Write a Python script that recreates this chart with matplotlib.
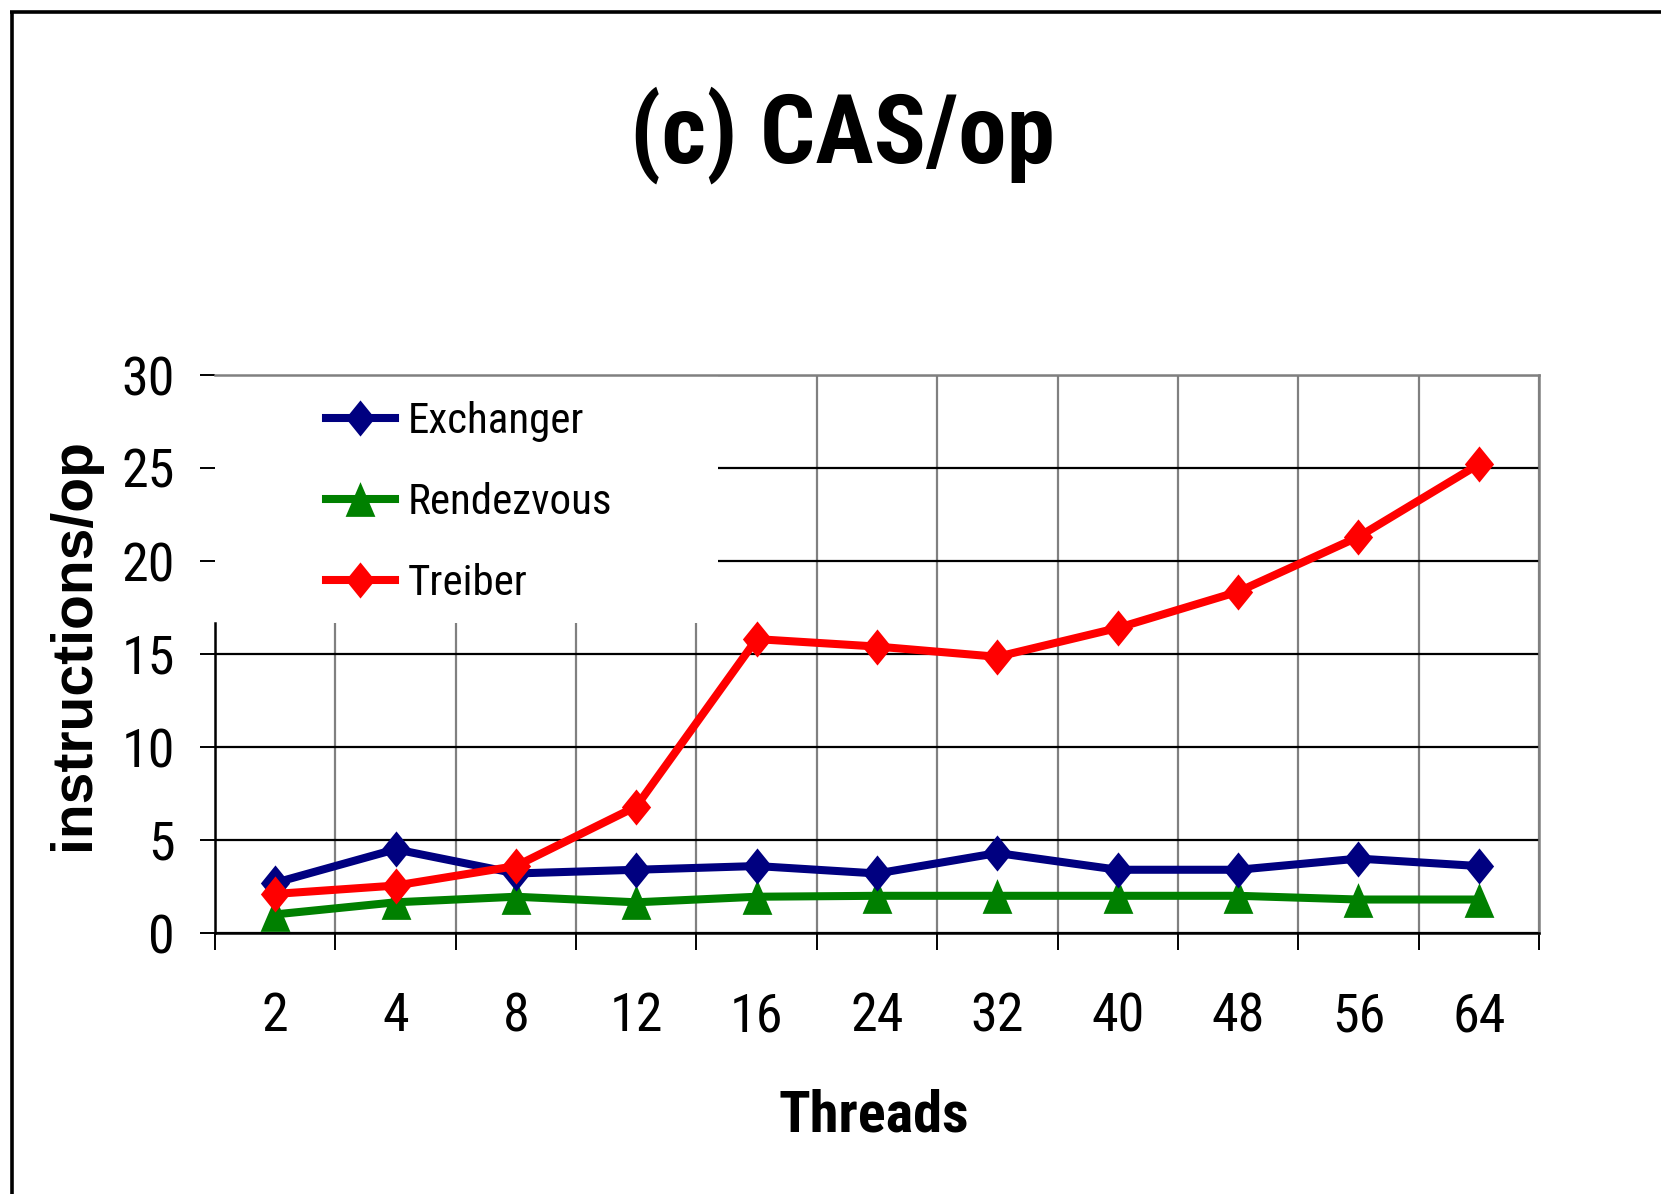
import matplotlib
matplotlib.use("Agg")
import matplotlib.pyplot as plt
from matplotlib import font_manager as fm
from matplotlib.lines import Line2D
from matplotlib.patches import Rectangle

# Data
threads = ["2", "4", "8", "12", "16", "24", "32", "40", "48", "56", "64"]
exchanger = [2.7, 4.5, 3.2, 3.4, 3.6, 3.2, 4.3, 3.4, 3.4, 4.0, 3.6]
rendezvous = [1.0, 1.65, 1.95, 1.65, 1.95, 2.0, 2.0, 2.0, 2.0, 1.8, 1.8]
treiber = [2.1, 2.55, 3.6, 6.8, 15.8, 15.4, 14.85, 16.4, 18.35, 21.3, 25.2]
yticks = [0, 5, 10, 15, 20, 25, 30]


def pick_narrow_family():
    """First narrow sans family with static regular and bold faces."""
    prefs = ['Liberation Sans Narrow', 'Arial Narrow', 'Roboto Condensed', 'Archivo Narrow',
             'IBM Plex Sans Condensed', 'Encode Sans Condensed', 'PT Sans Narrow',
             'Open Sans Condensed', 'Sofia Sans Semi Condensed']
    faces = {}
    for f in fm.fontManager.ttflist:
        if '[' in f.fname or f.style != 'normal':
            continue
        faces.setdefault(f.name, set()).add(int(f.weight))
    for name in prefs:
        w = faces.get(name, set())
        if any(x <= 500 for x in w) and any(x >= 700 for x in w):
            return name
    return 'Liberation Sans'


narrow = pick_narrow_family()
plt.rcParams['font.family'] = [narrow, 'Liberation Sans', 'DejaVu Sans']

W, H = 1661, 1194
fig = plt.figure(figsize=(W / 100, H / 100), dpi=100)

# outer frame (top and left edges)
fig.add_artist(Line2D([12 / W, 12 / W], [0, 1 - 12 / H], transform=fig.transFigure,
                      color='black', lw=2.6, solid_capstyle='butt'))
fig.add_artist(Line2D([12 / W - 0.001, 1], [1 - 12 / H, 1 - 12 / H], transform=fig.transFigure,
                      color='black', lw=2.6, solid_capstyle='butt'))

ax = fig.add_axes([215 / W, 1 - 933 / H, (1539 - 215) / W, (933 - 375) / H])

diamond = [(0, 1), (0.81, 0), (0, -1), (-0.81, 0), (0, 1)]
triangle = [(0, 1), (0.857, -1), (-0.857, -1), (0, 1)]

x = list(range(len(threads)))
ax.plot(x, exchanger, color='#000080', lw=5.8, marker=diamond, markersize=26,
        markeredgewidth=0, label='Exchanger', zorder=4, solid_joinstyle='miter')
ax.plot(x, rendezvous, color='#008000', lw=5.8, marker=triangle, markersize=25,
        markeredgewidth=0, label='Rendezvous', zorder=3, solid_joinstyle='miter')
ax.plot(x, treiber, color='#FF0000', lw=5.8, marker=diamond, markersize=26,
        markeredgewidth=0, label='Treiber', zorder=5, solid_joinstyle='miter')

ax.set_xlim(-0.5, len(threads) - 0.5)
ax.set_ylim(0, 30)
ax.set_yticks(yticks)
ax.set_yticklabels([str(v) for v in yticks], fontsize=39)
ax.set_xticks(x)
ax.set_xticklabels(threads, fontsize=39)
ax.set_xticks([i - 0.5 for i in range(len(threads) + 1)], minor=True)

ax.tick_params(axis='x', which='major', length=0, pad=42)
ax.tick_params(axis='x', which='minor', length=12, width=1.4, direction='out', color='black')
ax.tick_params(axis='y', which='major', length=11, width=1.4, direction='out', pad=18, color='black')

ax.set_axisbelow(True)
ax.grid(which='major', axis='y', color='black', lw=1.6)
ax.grid(which='minor', axis='x', color='#808080', lw=1.6)
ax.grid(which='major', axis='x', visible=False)

for side in ('top', 'right'):
    ax.spines[side].set_color('#808080')
    ax.spines[side].set_linewidth(1.8)
for side in ('bottom', 'left'):
    ax.spines[side].set_color('black')
    ax.spines[side].set_linewidth(1.8)
ax.spines['left'].set_bounds(0, 16.67)

# white area behind the legend
ax.add_patch(Rectangle((0, 16.67 / 30), 0.38, 1 - 16.67 / 30, transform=ax.transAxes,
                       facecolor='white', edgecolor='none', zorder=1))

ax.legend(loc='upper left', bbox_to_anchor=(326 / W, 1 - 401 / H), bbox_transform=fig.transFigure,
          frameon=False, fontsize=31, handlelength=1.6, handletextpad=0.29,
          labelspacing=0.93, borderpad=0, borderaxespad=0, numpoints=1)

fig.text(842 / W, 1 - 163 / H, '(c) CAS/op', ha='center', va='baseline',
         fontsize=70, fontweight='bold')
fig.text(874 / W, 1 - 1132 / H, 'Threads', ha='center', va='baseline',
         fontsize=42, fontweight='bold')
fig.text(74 / W, 1 - 644 / H, 'instructions/op', ha='center', va='center', rotation=90,
         fontsize=41, fontweight='bold', family=['Liberation Sans', 'DejaVu Sans'])

fig.savefig('out.png', dpi=100, facecolor='white')
